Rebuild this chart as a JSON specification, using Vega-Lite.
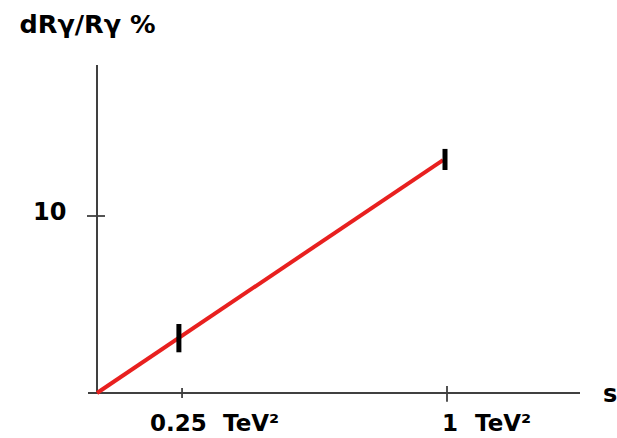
{
  "$schema": "https://vega.github.io/schema/vega-lite/v6.json",
  "width": 617,
  "height": 438,
  "autosize": "none",
  "padding": 0,
  "background": "white",
  "config": {"view": {"stroke": null}},
  "datasets": {
    "axes": [
      {"s": -0.0257, "v": 0, "s2": 1.38, "v2": 0},
      {"s": 0, "v": 0, "s2": 0, "v2": 18.53}
    ],
    "ticks": [
      {"s": -0.0286, "v": 10, "s2": 0.0229, "v2": 10},
      {"s": 0.243, "v": 0.28, "s2": 0.243, "v2": -0.28},
      {"s": 1.0, "v": 0.4, "s2": 1.0, "v2": -0.5}
    ],
    "curve": [
      {"s": 0, "v": 0},
      {"s": 0.9886, "v": 13.16}
    ],
    "errors": [
      {"s": 0.234, "v": 2.3, "s2": 0.234, "v2": 3.9},
      {"s": 0.9943, "v": 12.6, "s2": 0.9943, "v2": 13.79}
    ],
    "titleText": [
      {"s": -0.2214, "v": 20.34, "label": "dRγ/Rγ %"}
    ],
    "bigText": [
      {"s": -0.1829, "v": 9.774, "label": "10"},
      {"s": 1.4457, "v": -0.508, "label": "s"}
    ],
    "smallText": [
      {"s": 0.1514, "v": -2.147, "label": "0.25"},
      {"s": 0.36, "v": -2.147, "label": "TeV²"},
      {"s": 0.9857, "v": -2.147, "label": "1"},
      {"s": 1.08, "v": -2.147, "label": "TeV²"}
    ]
  },
  "encoding": {
    "x": {"field": "s", "type": "quantitative", "axis": null,
          "scale": {"domain": [-0.27714, 1.48571], "nice": false, "zero": false}},
    "y": {"field": "v", "type": "quantitative", "axis": null,
          "scale": {"domain": [-2.5424, 22.2034], "nice": false, "zero": false}}
  },
  "layer": [
    {
      "data": {"name": "axes"},
      "mark": {"type": "rule", "color": "#404040", "strokeWidth": 2},
      "encoding": {"x2": {"field": "s2"}, "y2": {"field": "v2"}}
    },
    {
      "data": {"name": "ticks"},
      "mark": {"type": "rule", "color": "#404040", "strokeWidth": 1.8},
      "encoding": {"x2": {"field": "s2"}, "y2": {"field": "v2"}}
    },
    {
      "data": {"name": "curve"},
      "mark": {"type": "line", "color": "#e8201f", "strokeWidth": 4},
      "encoding": {}
    },
    {
      "data": {"name": "errors"},
      "mark": {"type": "rule", "color": "#000000", "strokeWidth": 5},
      "encoding": {"x2": {"field": "s2"}, "y2": {"field": "v2"}}
    },
    {
      "data": {"name": "titleText"},
      "mark": {"type": "text", "align": "left", "baseline": "alphabetic", "font": "DejaVu Sans", "fontWeight": "bold", "fontSize": 25.5, "color": "#000000"},
      "encoding": {"text": {"field": "label"}}
    },
    {
      "data": {"name": "bigText"},
      "mark": {"type": "text", "align": "left", "baseline": "alphabetic", "font": "DejaVu Sans", "fontWeight": "bold", "fontSize": 24, "color": "#000000"},
      "encoding": {"text": {"field": "label"}}
    },
    {
      "data": {"name": "smallText"},
      "mark": {"type": "text", "align": "left", "baseline": "alphabetic", "font": "DejaVu Sans", "fontWeight": "bold", "fontSize": 23, "color": "#000000"},
      "encoding": {"text": {"field": "label"}}
    }
  ]
}
